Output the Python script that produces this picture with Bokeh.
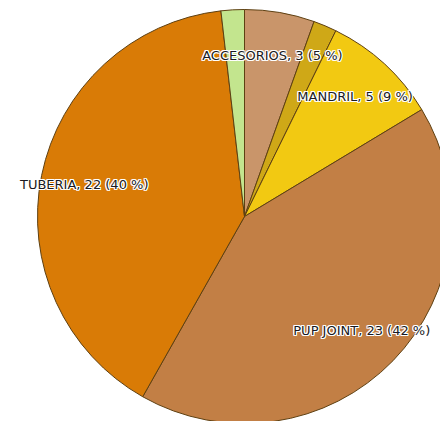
import math
from bokeh.plotting import figure
from bokeh.models import ColumnDataSource
from bokeh.embed import file_html
from bokeh.resources import INLINE
from bokeh.core.properties import value

# Data (clockwise from 12 o'clock)
categories = ["ACCESORIOS", "OTROS A", "MANDRIL", "PUP JOINT", "TUBERIA", "OTROS B"]
values = [3, 1, 5, 23, 22, 1]
colors = ["#C9956A", "#CFA817", "#F2C912", "#C27F45", "#D97B06", "#C3E58E"]
show_label = [True, False, True, True, True, False]

W, H = 440, 421
cx, cy, R = 244, H - 216, 207

total = sum(values)
starts, ends, lx, ly, lab_txt = [], [], [], [], []
cum = 0.0
for cat, v, show in zip(categories, values, show_label):
    a0 = cum / total * 2 * math.pi
    cum += v
    a1 = cum / total * 2 * math.pi
    starts.append(math.pi / 2 - a0)
    ends.append(math.pi / 2 - a1)
    if show:
        mid = (a0 + a1) / 2
        rr = 0.79 * R
        lx.append(cx + rr * math.sin(mid))
        ly.append(cy + rr * math.cos(mid))
        pct = round(v / total * 100)
        lab_txt.append(f"{cat}, {v} ({pct} %)")

src = ColumnDataSource(dict(start=starts, end=ends, color=colors))

p = figure(width=W, height=H, x_range=(0, W), y_range=(0, H),
           output_backend="svg", toolbar_location=None, min_border=0)
p.axis.visible = False
p.grid.visible = False
p.outline_line_color = None
p.background_fill_color = "white"

p.wedge(x=cx, y=cy, radius=R, start_angle="start", end_angle="end",
        direction="clock", fill_color="color", line_color="#5e4012",
        line_width=1, source=src)

lsrc = ColumnDataSource(dict(x=lx, y=ly, t=lab_txt))
for dx, dy in [(-1, 0), (1, 0), (0, -1), (0, 1), (-1, -1), (1, 1), (-1, 1), (1, -1)]:
    p.text(x="x", y="y", text="t", source=lsrc, x_offset=dx, y_offset=dy,
           text_align="center", text_baseline="middle",
           text_font=value("DejaVu Sans"), text_font_size="13px",
           text_color="white")
p.text(x="x", y="y", text="t", source=lsrc,
       text_align="center", text_baseline="middle",
       text_font=value("DejaVu Sans"), text_font_size="13px",
       text_color="#1a1a22")

open("out.html", "w").write(file_html(p, INLINE))
